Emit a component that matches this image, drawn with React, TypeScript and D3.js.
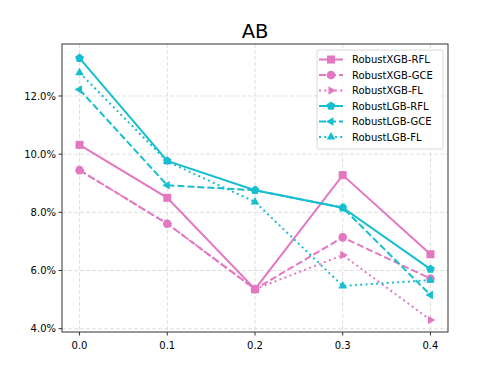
import React from 'react';
import * as d3 from 'd3';

const noiseRates = [0.0, 0.1, 0.2, 0.3, 0.4];
const xTicks = [0.0, 0.1, 0.2, 0.3, 0.4];
const yTicks = [4, 6, 8, 10, 12];

const xgbRfl = [10.32, 8.5, 5.36, 9.28, 6.56];
const xgbGce = [9.45, 7.61, 5.36, 7.14, 5.72];
const xgbFl = [9.45, 7.61, 5.36, 6.53, 4.3];
const lgbRfl = [13.3, 9.77, 8.76, 8.16, 6.05];
const lgbGce = [12.22, 8.93, 8.76, 8.16, 5.16];
const lgbFl = [12.8, 9.75, 8.36, 5.47, 5.67];

const PINK = '#e377c2';
const CYAN = '#17becf';

const series = [
    { name: 'RobustXGB-RFL', values: xgbRfl, color: PINK, dash: '', marker: 'square' },
    { name: 'RobustXGB-GCE', values: xgbGce, color: PINK, dash: '7,3', marker: 'circle' },
    { name: 'RobustXGB-FL', values: xgbFl, color: PINK, dash: '2,3.3', marker: 'triRight' },
    { name: 'RobustLGB-RFL', values: lgbRfl, color: CYAN, dash: '', marker: 'pentagon' },
    { name: 'RobustLGB-GCE', values: lgbGce, color: CYAN, dash: '7,3', marker: 'triLeft' },
    { name: 'RobustLGB-FL', values: lgbFl, color: CYAN, dash: '2,3.3', marker: 'triUp' },
];

const margin = { left: 62, right: 50, top: 44, bottom: 42 };
const W = 498;
const H = 374;

const Marker = ({ type, x, y, color }: any) => {
    const r = 4.3;
    if (type === 'square') {
        return <rect x={x - 4} y={y - 4} width={8} height={8} fill={color} />;
    }
    if (type === 'circle') {
        return <circle cx={x} cy={y} r={r} fill={color} />;
    }
    let pts: number[][] = [];
    if (type === 'pentagon') {
        pts = d3.range(5).map((i) => {
            const a = -Math.PI / 2 + (i * 2 * Math.PI) / 5;
            return [x + 4.6 * Math.cos(a), y + 4.6 * Math.sin(a)];
        });
    } else {
        const rot = type === 'triUp' ? -90 : type === 'triLeft' ? 180 : 0;
        pts = [0, 120, 240].map((d) => {
            const a = ((d + rot) * Math.PI) / 180;
            return [x + 5 * Math.cos(a), y + 5 * Math.sin(a)];
        });
    }
    return <polygon points={pts.map((p) => p.join(',')).join(' ')} fill={color} />;
};

const App = () => {
    const x = d3.scaleLinear().domain([-0.02, 0.42]).range([margin.left, W - margin.right]);
    const y = d3.scaleLinear().domain([3.887, 13.787]).range([H - margin.bottom, margin.top]);

    const line = d3.line<number>()
        .x((d, i) => x(noiseRates[i]))
        .y((d) => y(d));

    const font = "'DejaVu Sans', sans-serif";
    const legendX = 317;
    const legendY = 50;
    const rowH = 15.5;

    return (
        <svg width={W} height={H} style={{ position: 'absolute', left: 0, top: 0 }} fontFamily={font}>
            <rect width={W} height={H} fill="#fff" />
            {/* grid */}
            {xTicks.map((t) => (
                <line key={'gx' + t} x1={x(t)} x2={x(t)} y1={margin.top} y2={H - margin.bottom}
                    stroke="#dcdcdc" strokeWidth={0.9} strokeDasharray="4,2" />
            ))}
            {yTicks.map((t) => (
                <line key={'gy' + t} x1={margin.left} x2={W - margin.right} y1={y(t)} y2={y(t)}
                    stroke="#dcdcdc" strokeWidth={0.9} strokeDasharray="4,2" />
            ))}
            {/* lines */}
            {series.map((s) => (
                <g key={s.name}>
                    <path d={line(s.values) || ''} fill="none" stroke={s.color} strokeWidth={2}
                        strokeDasharray={s.dash || undefined} />
                    {s.values.map((v, i) => (
                        <Marker key={i} type={s.marker} x={x(noiseRates[i])} y={y(v)} color={s.color} />
                    ))}
                </g>
            ))}
            {/* axes frame */}
            <rect x={margin.left} y={margin.top} width={W - margin.right - margin.left}
                height={H - margin.bottom - margin.top} fill="none" stroke="#333" strokeWidth={1} />
            {xTicks.map((t) => (
                <g key={'xt' + t}>
                    <line x1={x(t)} x2={x(t)} y1={H - margin.bottom} y2={H - margin.bottom + 3.5} stroke="#333" />
                    <text x={x(t)} y={H - margin.bottom + 17} fontSize={10} textAnchor="middle" fill="#000">
                        {t.toFixed(1)}
                    </text>
                </g>
            ))}
            {yTicks.map((t) => (
                <g key={'yt' + t}>
                    <line x1={margin.left - 3.5} x2={margin.left} y1={y(t)} y2={y(t)} stroke="#333" />
                    <text x={margin.left - 6} y={y(t) + 3.6} fontSize={10} textAnchor="end" fill="#000">
                        {t.toFixed(1) + '%'}
                    </text>
                </g>
            ))}
            <text x={(margin.left + W - margin.right) / 2} y={37.5} fontSize={19.5} textAnchor="middle" fill="#000">AB</text>
            {/* legend */}
            <rect x={legendX} y={legendY} width={126} height={99} rx={2} fill="#fff" fillOpacity={0.8}
                stroke="#d0d0d0" strokeWidth={0.8} />
            {series.map((s, i) => {
                const cy = legendY + 9.5 + i * rowH;
                return (
                    <g key={'lg' + s.name}>
                        <line x1={legendX + 2} x2={legendX + 26} y1={cy} y2={cy} stroke={s.color} strokeWidth={2}
                            strokeDasharray={s.dash || undefined} />
                        <Marker type={s.marker} x={legendX + 14} y={cy} color={s.color} />
                        <text x={legendX + 35} y={cy + 3.6} fontSize={10} fill="#000">{s.name}</text>
                    </g>
                );
            })}
        </svg>
    );
};

export default App;
